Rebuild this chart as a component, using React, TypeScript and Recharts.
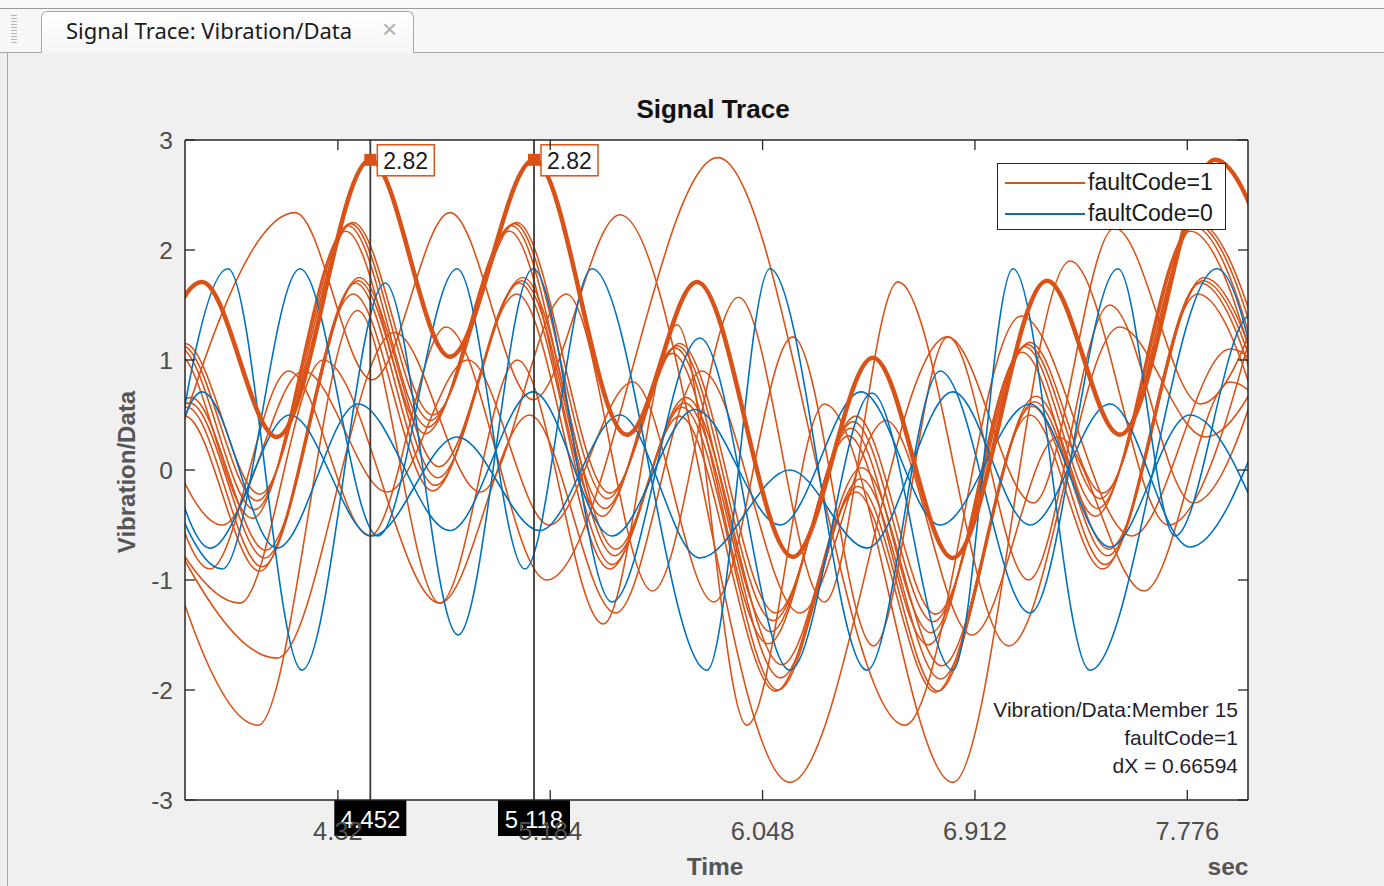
import React from 'react'
import { LineChart, Line, XAxis, YAxis, ReferenceLine, ReferenceDot, Legend, CartesianGrid } from 'recharts'

const ORANGE = '#D95319'
const BLUE = '#0072BD'
const AXIS = '#262626'
const TICK_TEXT = '#4d4d4d'
const FONT = '"Liberation Sans", Arial, Helvetica, sans-serif'

const xDomain = [3.698, 8.023]
const yDomain = [-3, 3]
const xTicks = [4.32, 5.184, 6.048, 6.912, 7.776]
const yTicks = [-3, -2, -1, 0, 1, 2, 3]

const cursorTimes = [4.452, 5.118]
const cursorValue = 2.82
const memberInfo = ['Vibration/Data:Member 15', 'faultCode=1', 'dX = 0.66594']

// each trace: [time (sec), value] at its turning points
const member15 = [[3.45, -0.2], [3.767, 1.71], [4.072, 0.3], [4.452, 2.82], [4.776, 1.03], [5.118, 2.82], [5.496, 0.32], [5.781, 1.71], [6.171, -0.79], [6.497, 1.02], [6.822, -0.8], [7.205, 1.72], [7.502, 0.32], [7.888, 2.82], [8.23, 1.0]]

const fault1 = [[3.37, -0.78], [3.687, 1.13], [3.992, -0.28], [4.372, 2.24], [4.696, 0.45], [5.038, 2.24], [5.416, -0.26], [5.701, 1.13], [6.091, -1.37], [6.417, 0.44], [6.742, -1.38], [7.125, 1.14], [7.422, -0.26], [7.808, 2.24], [8.15, 0.42]]
const fault2 = [[3.36, -0.85], [3.677, 1.11], [3.982, -0.36], [4.362, 2.22], [4.686, 0.39], [5.028, 2.22], [5.406, -0.35], [5.691, 1.11], [6.081, -1.47], [6.407, 0.38], [6.732, -1.48], [7.115, 1.12], [7.412, -0.35], [7.798, 2.22], [8.14, 0.35]]
const fault3 = [[3.38, -0.72], [3.697, 1.15], [4.002, -0.22], [4.382, 2.25], [4.706, 0.5], [5.048, 2.25], [5.426, -0.21], [5.711, 1.15], [6.101, -1.3], [6.427, 0.49], [6.752, -1.31], [7.135, 1.16], [7.432, -0.21], [7.818, 2.25], [8.16, 0.47]]
const fault4 = [[3.35, -0.95], [3.667, 1.06], [3.972, -0.44], [4.352, 2.17], [4.676, 0.33], [5.018, 2.17], [5.396, -0.42], [5.681, 1.06], [6.071, -1.58], [6.397, 0.31], [6.722, -1.59], [7.105, 1.07], [7.402, -0.42], [7.788, 2.17], [8.13, 0.28]]
const fault5 = [[3.4, -1.3], [3.717, 0.61], [4.022, -0.8], [4.402, 1.72], [4.726, -0.07], [5.068, 1.72], [5.446, -0.78], [5.731, 0.61], [6.121, -1.89], [6.447, -0.08], [6.772, -1.9], [7.155, 0.62], [7.452, -0.78], [7.838, 1.72], [8.18, -0.1]]
const fault6 = [[3.39, -1.4], [3.707, 0.57], [4.012, -0.88], [4.392, 1.7], [4.716, -0.14], [5.058, 1.7], [5.436, -0.86], [5.721, 0.57], [6.111, -2.0], [6.437, -0.15], [6.762, -2.01], [7.145, 0.58], [7.442, -0.86], [7.828, 1.7], [8.17, -0.17]]
const fault7 = [[3.38, -1.42], [3.697, 0.49], [4.002, -0.92], [4.382, 1.6], [4.706, -0.19], [5.048, 1.6], [5.426, -0.9], [5.711, 0.49], [6.101, -2.01], [6.427, -0.2], [6.752, -2.02], [7.135, 0.5], [7.432, -0.9], [7.818, 1.6], [8.16, -0.22]]
const fault8 = [[3.405, -1.22], [3.722, 0.66], [4.027, -0.73], [4.407, 1.75], [4.731, 0.03], [5.073, 1.75], [5.451, -0.72], [5.736, 0.66], [6.126, -1.77], [6.452, 0.02], [6.777, -1.78], [7.16, 0.67], [7.457, -0.72], [7.843, 1.75], [8.185, 0.0]]
const fault9 = [[3.55, -0.6], [4.146, 2.34], [4.459, 0.82], [4.776, 2.34], [5.114, 0.64], [5.468, 2.32], [6.159, -2.84], [6.8, 1.21], [7.15, -0.3], [7.48, 2.2], [7.83, 0.6], [8.15, 2.0]]
const fault10 = [[3.5, 1.2], [3.8, -0.9], [4.12, 0.9], [4.45, -0.6], [4.76, 1.3], [5.17, -1.0], [5.866, 2.84], [6.627, -2.32], [7.1, 1.4], [7.55, -0.6], [7.95, 1.1], [8.2, 0.5]]
const fault11 = [[3.5, 0.2], [3.995, -2.32], [4.4, 1.45], [4.735, -1.21], [5.05, 1.0], [5.4, -1.4], [5.7, 1.32], [5.984, -2.32], [6.3, 0.6], [6.822, -2.84], [7.3, 1.9], [7.7, -0.5], [8.1, 1.8]]
const fault12 = [[3.55, -0.2], [4.072, -1.71], [4.55, 1.25], [4.9, -0.2], [5.25, 1.6], [5.6, -1.1], [5.95, 1.57], [6.3, -1.2], [6.599, 1.71], [7.05, -1.6], [7.5, 1.3], [7.85, 0.3], [8.2, 1.5]]
const fault13 = [[3.5, 0.0], [3.922, -1.21], [4.26, 1.0], [4.735, -1.21], [5.1, 0.5], [5.45, -1.3], [5.8, 0.9], [6.2, -1.3], [6.55, 0.45], [6.9, -1.5], [7.25, 0.3], [7.6, -1.1], [7.95, 0.8], [8.2, 0.2]]
const fault14 = [[3.52, 0.9], [3.85, -0.5], [4.18, 0.9], [4.52, -0.2], [4.85, 1.0], [5.18, -0.5], [5.52, 0.8], [5.85, -1.2], [6.171, 1.21], [6.5, -1.6], [6.802, 1.21], [7.13, -1.0], [7.46, 1.5], [7.8, -0.3], [8.12, 1.2]]

const healthy1 = [[3.556, -1.5], [3.873, 1.83], [4.174, -1.82], [4.512, 1.7], [4.809, -1.5], [5.114, 1.83], [5.435, -1.2], [5.793, 1.2], [6.159, -1.82], [6.493, 0.7], [6.822, -1.82], [7.067, 1.83], [7.38, -1.82], [7.896, 1.83], [8.2, -1.0]]
const healthy2 = [[3.5, 0.8], [3.85, -0.9], [4.166, 1.83], [4.483, -0.6], [4.805, 1.83], [5.081, -0.9], [5.354, 1.83], [5.822, -1.82], [6.078, 1.83], [6.473, -1.82], [6.77, 0.9], [7.136, -1.3], [7.494, 1.83], [7.726, -0.6], [8.031, 1.4], [8.3, 0.0]]
const healthy3 = [[3.6, -0.3], [3.767, 0.71], [4.072, -0.71], [4.402, 0.6], [4.776, -0.55], [5.114, 0.71], [5.435, -0.6], [5.773, 0.55], [6.119, -0.5], [6.449, 0.71], [6.77, -0.5], [7.136, 0.6], [7.461, -0.7], [7.786, 0.5], [8.1, -0.6]]
const healthy4 = [[3.6, 0.4], [3.8, -0.71], [4.125, 0.5], [4.459, -0.6], [4.805, 0.3], [5.142, -0.55], [5.468, 0.5], [5.793, -0.8], [6.159, 0.0], [6.473, -0.71], [6.822, 0.71], [7.136, -0.5], [7.461, 0.6], [7.786, -0.7], [8.1, 0.5]]

const faultTraces = [fault1, fault2, fault3, fault4, fault5, fault6, fault7, fault8, fault9, fault10, fault11, fault12, fault13, fault14]
const healthyTraces = [healthy1, healthy2, healthy3, healthy4]

const legendItems = [
  { label: 'faultCode=1', color: ORANGE },
  { label: 'faultCode=0', color: BLUE },
]

const toRows = (pts: number[][]) => pts.map(([t, v]) => ({ t, v }))

const BottomTick = ({ x, y, payload }: any) => (
  <g>
    <line x1={x} x2={x} y1={y} y2={y - 10} stroke={AXIS} strokeWidth={1.3} />
    <text x={x} y={y + 40} textAnchor="middle" fontSize={25.5} fontFamily={FONT} fill={TICK_TEXT}>
      {payload.value}
    </text>
  </g>
)
const TopTick = ({ x, y }: any) => <line x1={x} x2={x} y1={y} y2={y + 10} stroke={AXIS} strokeWidth={1.3} />
const LeftTick = ({ x, y, payload }: any) => (
  <g>
    <line x1={x} x2={x + 10} y1={y} y2={y} stroke={AXIS} strokeWidth={1.3} />
    <text x={x - 12} y={y + 9} textAnchor="end" fontSize={24.5} fontFamily={FONT} fill={TICK_TEXT}>
      {payload.value}
    </text>
  </g>
)
const RightTick = ({ x, y }: any) => <line x1={x} x2={x - 10} y1={y} y2={y} stroke={AXIS} strokeWidth={1.3} />

const CursorTag = ({ viewBox, text }: any) => {
  const x = viewBox.x
  const bottom = viewBox.y + viewBox.height
  return (
    <g>
      <rect x={x - 36} y={bottom} width={72} height={36} fill="#000" />
      <text x={x} y={bottom + 28} textAnchor="middle" fontSize={24} fontFamily={FONT} fill="#fff">
        {text}
      </text>
    </g>
  )
}

const DataTip = ({ cx, cy, text }: any) => (
  <g>
    <rect x={cx - 6} y={cy - 6} width={12} height={12} fill={ORANGE} />
    <rect x={cx + 7} y={cy - 15} width={57} height={31} fill="#fff" stroke={ORANGE} strokeWidth={1.5} />
    <text x={cx + 13} y={cy + 9} fontSize={23} fontFamily={FONT} fill="#1a1a1a">
      {text}
    </text>
  </g>
)

const LegendBox = () => (
  <div
    style={{
      width: 229,
      height: 67,
      boxSizing: 'border-box',
      border: `1.5px solid ${AXIS}`,
      background: '#fff',
      fontFamily: FONT,
      fontSize: 23,
      color: '#1a1a1a',
      paddingTop: 3,
    }}
  >
    {legendItems.map((it) => (
      <div key={it.label} style={{ display: 'flex', alignItems: 'center', height: 31 }}>
        <div style={{ width: 80, height: 2, background: it.color, marginLeft: 7, marginRight: 3 }} />
        <span>{it.label}</span>
      </div>
    ))}
  </div>
)

export default function App() {
  return (
    <div style={{ position: 'relative', width: 1384, height: 886, overflow: 'hidden', background: '#f0f0f0' }}>
      <style>{'body{margin:0;background:#f0f0f0}'}</style>

      {/* tab strip */}
      <div style={{ position: 'absolute', left: 0, top: 0, width: 1384, height: 8, background: '#fafafa' }} />
      <div style={{ position: 'absolute', left: 0, top: 8, width: 1384, height: 1, background: '#9a9a9a' }} />
      <div style={{ position: 'absolute', left: 0, top: 9, width: 1384, height: 43, background: '#f7f7f7' }} />
      <div
        style={{
          position: 'absolute', left: 11, top: 15, width: 6, height: 30,
          backgroundImage: 'repeating-linear-gradient(#b5b5b5 0 1px, transparent 1px 3px)',
        }}
      />
      <div
        style={{
          position: 'absolute', left: 41, top: 11, width: 373, height: 42, boxSizing: 'border-box',
          border: '1px solid #a8a8a8', borderBottom: 'none', borderRadius: '6px 6px 0 0',
          background: 'linear-gradient(#ffffff, #f6f6f6)',
        }}
      />
      <div style={{ position: 'absolute', left: 66, top: 15, fontFamily: '"Noto Sans", "Open Sans", sans-serif', fontSize: 22, color: '#1a1a1a' }}>
        Signal Trace: Vibration/Data
      </div>
      <div style={{ position: 'absolute', left: 382, top: 14, fontFamily: FONT, fontSize: 26, color: '#b0b0b0' }}>×</div>
      <div style={{ position: 'absolute', left: 0, top: 52, width: 41, height: 1, background: '#a8a8a8' }} />
      <div style={{ position: 'absolute', left: 414, top: 52, width: 970, height: 1, background: '#a8a8a8' }} />
      <div style={{ position: 'absolute', left: 7, top: 52, width: 1, height: 834, background: '#a8a8a8' }} />

      {/* title and axis labels */}
      <div style={{ position: 'absolute', left: 513, width: 400, top: 94, textAlign: 'center', fontFamily: FONT, fontWeight: 'bold', fontSize: 26, color: '#111' }}>
        Signal Trace
      </div>
      <div
        style={{
          position: 'absolute', left: 127, top: 472, transform: 'translate(-50%, -50%) rotate(-90deg)',
          fontFamily: FONT, fontWeight: 'bold', fontSize: 24, color: '#555', whiteSpace: 'nowrap',
        }}
      >
        Vibration/Data
      </div>
      <div style={{ position: 'absolute', left: 615, width: 200, top: 853, textAlign: 'center', fontFamily: FONT, fontWeight: 'bold', fontSize: 24.5, color: '#555' }}>
        Time
      </div>
      <div style={{ position: 'absolute', left: 1178, width: 100, top: 853, textAlign: 'center', fontFamily: FONT, fontWeight: 'bold', fontSize: 24.5, color: '#555' }}>
        sec
      </div>

      <div style={{ position: 'absolute', left: 0, top: 0 }}>
        <LineChart width={1384} height={886} margin={{ top: 130, right: 106, bottom: 46, left: 125 }}>
          <CartesianGrid fill="#fff" horizontal={false} vertical={false} />
          <XAxis
            dataKey="t"
            type="number"
            domain={xDomain}
            ticks={xTicks}
            interval={0}
            allowDataOverflow
            height={40}
            tickSize={0}
            tickMargin={0}
            tickLine={false}
            axisLine={{ stroke: AXIS, strokeWidth: 1.5 }}
            tick={(p: any) => <BottomTick {...p} />}
          />
          <XAxis
            xAxisId="top"
            orientation="top"
            dataKey="t"
            type="number"
            domain={xDomain}
            ticks={xTicks}
            interval={0}
            allowDataOverflow
            height={10}
            tickSize={0}
            tickMargin={0}
            tickLine={false}
            axisLine={{ stroke: AXIS, strokeWidth: 1.5 }}
            tick={(p: any) => <TopTick {...p} />}
          />
          <YAxis
            type="number"
            domain={yDomain}
            ticks={yTicks}
            interval={0}
            allowDataOverflow
            width={60}
            tickSize={0}
            tickMargin={0}
            tickLine={false}
            axisLine={{ stroke: AXIS, strokeWidth: 1.5 }}
            tick={(p: any) => <LeftTick {...p} />}
          />
          <YAxis
            yAxisId="right"
            orientation="right"
            type="number"
            domain={yDomain}
            ticks={yTicks}
            interval={0}
            allowDataOverflow
            width={30}
            tickSize={0}
            tickMargin={0}
            tickLine={false}
            axisLine={{ stroke: AXIS, strokeWidth: 1.5 }}
            tick={(p: any) => <RightTick {...p} />}
          />

          {faultTraces.map((pts, i) => (
            <Line
              key={'f' + i}
              data={toRows(pts)}
              dataKey="v"
              type="monotone"
              stroke={ORANGE}
              strokeWidth={1.6}
              dot={false}
              activeDot={false}
              isAnimationActive={false}
              legendType="none"
            />
          ))}
          {healthyTraces.map((pts, i) => (
            <Line
              key={'h' + i}
              data={toRows(pts)}
              dataKey="v"
              type="monotone"
              stroke={BLUE}
              strokeWidth={1.6}
              dot={false}
              activeDot={false}
              isAnimationActive={false}
              legendType="none"
            />
          ))}
          <Line
            data={toRows(member15)}
            dataKey="v"
            type="monotone"
            stroke={ORANGE}
            strokeWidth={4.5}
            dot={false}
            activeDot={false}
            isAnimationActive={false}
            legendType="none"
          />

          {cursorTimes.map((t) => (
            <ReferenceLine
              key={'c' + t}
              x={t}
              stroke="#3a3a3a"
              strokeWidth={1.8}
              label={(p: any) => <CursorTag viewBox={p.viewBox} text={String(t)} />}
            />
          ))}
          {cursorTimes.map((t) => (
            <ReferenceDot
              key={'d' + t}
              x={t}
              y={cursorValue}
              r={6}
              shape={(p: any) => <DataTip cx={p.cx} cy={p.cy} text={String(cursorValue)} />}
            />
          ))}

          <Legend
            layout="horizontal"
            verticalAlign="middle"
            align="center"
            wrapperStyle={{ left: 997, top: 163, width: 229, height: 67 }}
            content={() => <LegendBox />}
          />
        </LineChart>
      </div>

      {/* member info */}
      <div style={{ position: 'absolute', right: 1384 - 1238, top: 696, textAlign: 'right', fontFamily: FONT, fontSize: 21, lineHeight: '28px', color: '#1f1f2e' }}>
        {memberInfo.map((s) => (
          <div key={s}>{s}</div>
        ))}
      </div>
    </div>
  )
}
